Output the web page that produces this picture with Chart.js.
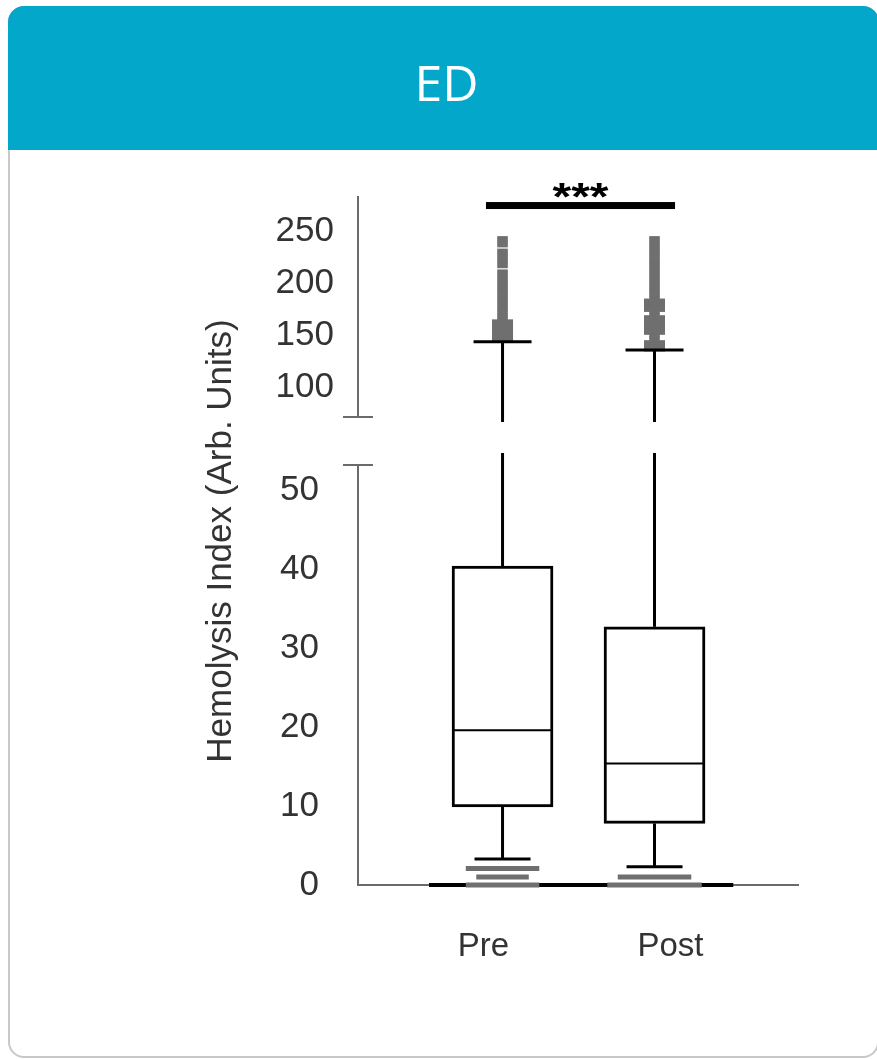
<!DOCTYPE html>
<html>
<head>
<meta charset="utf-8">
<title>ED - Hemolysis Index</title>
<script src="https://cdn.jsdelivr.net/npm/chart.js@4.4.1/dist/chart.umd.min.js"></script>
<style>
  body { margin: 0; width: 877px; height: 1059px; overflow: hidden; position: relative; background: #fff; }
  .card { position: absolute; left: 8px; top: 6px; width: 867px; height: 1048px; border: 2px solid #c8c8c8; border-radius: 16px; }
  .card-head { position: absolute; left: 8px; top: 6px; width: 871px; height: 135px; padding-top: 9px;
               background: #03a7c9; border-radius: 16px 16px 0 0; color: #fff; text-align: center;
               font: 50px "Open Sans", sans-serif; line-height: 135px; text-indent: 6px; }
  #hemolysisChart { position: absolute; left: 0; top: 150px; }
</style>
</head>
<body>
<div class="card"></div>
<div class="card-head">ED</div>
<canvas id="hemolysisChart" width="877" height="909"></canvas>

<script>
// Box plot summary per group
const categories = ["Pre", "Post"];
const q1 = [9.9, 7.8];
const median = [19.6, 15.4];
const q3 = [40.4, 32.7];
const whiskerLow = [3.3, 2.3];
const whiskerHigh = [144, 136];

// Outliers as [value, number of samples]
const highOutliers = [
    [[244,1],[242,1],[240,1],[238,1],[236,1],[232,1],[230,1],[228,1],[226,1],[224,1],[222,1],[220,1],
     [218,1],[216,1],[212,1],[210,1],[208,1],[206,1],[204,1],[202,1],[200,1],[198,1],[196,1],[194,1],
     [192,1],[190,1],[188,1],[186,1],[184,1],[182,1],[180,1],[178,1],[176,1],[174,1],[172,1],[170,1],
     [168,1],[166,1],[164,2],[162,2],[160,2],[158,2],[156,2],[154,2],[152,2],[150,2],[148,2],[146,2]],
    [[244,1],[242,1],[240,1],[238,1],[236,1],[234,1],[232,1],[230,1],[228,1],[226,1],[224,1],[222,1],
     [220,1],[218,1],[216,1],[214,1],[212,1],[210,1],[208,1],[206,1],[204,1],[202,1],[200,1],[198,1],
     [196,1],[194,1],[192,1],[190,1],[188,1],[186,1],[184,2],[182,2],[180,2],[178,2],[176,2],[174,2],
     [172,1],[170,1],[168,2],[166,2],[164,2],[162,2],[160,2],[158,2],[156,2],[154,2],[152,2],[150,1],
     [148,1],[146,1],[144,2],[142,2],[140,2],[138,2],[136,2]]
];
const lowOutliers = [
    [[2.1, 7], [1.0, 5], [0, 7]],
    [[1.0, 7], [0, 9]]
];
// readings reported as zero
const zeroReadings = [14, 15];

const topTicks = [100, 150, 200, 250];
const lowTicks = [0, 10, 20, 30, 40, 50];
const sigLabel = "***";

const FONT = '"Liberation Sans", Arial, sans-serif';
const AXIS_GREY = "#6a6a6a";
const DOT_GREY = "#6f6f6f";

function toPoints(groups) {
    return groups.flatMap((g, i) => g.map(([v, n]) => ({ x: i + 1, y: v, n: n })));
}

function dashRadius(ctx) {
    return ctx.raw ? ctx.raw.n * 5.25 : 3;
}

// whiskers, medians, axis break marks and the significance bar
const boxPlotExtras = {
    id: "boxPlotExtras",
    afterDatasetsDraw(chart) {
        const { ctx } = chart;
        const { x, yTop, yLow } = chart.scales;

        function line(x1, y1, x2, y2) {
            ctx.beginPath();
            ctx.moveTo(x1, y1);
            ctx.lineTo(x2, y2);
            ctx.stroke();
        }

        ctx.save();
        ctx.strokeStyle = "#000";
        categories.forEach((c, i) => {
            const cx = x.getPixelForValue(i + 1);
            const lowCap = yLow.getPixelForValue(whiskerLow[i]);
            const highCap = yTop.getPixelForValue(whiskerHigh[i]);

            ctx.lineWidth = 3;
            line(cx, yLow.getPixelForValue(q1[i]), cx, lowCap);
            line(cx, yLow.getPixelForValue(q3[i]), cx, yLow.top - 12);
            line(cx, yTop.bottom + 5, cx, highCap);
            line(cx - 28, lowCap, cx + 28, lowCap);
            line(cx - 29, highCap, cx + 29, highCap);

            ctx.lineWidth = 2;
            const m = yLow.getPixelForValue(median[i]);
            line(cx - 49, m, cx + 49, m);
        });

        // break marks on the y axis
        ctx.strokeStyle = AXIS_GREY;
        ctx.lineWidth = 2;
        const ax = yLow.right;
        line(ax - 15, yTop.bottom, ax + 15, yTop.bottom);
        line(ax - 15, yLow.top, ax + 15, yLow.top);

        // Pre vs Post significance
        const sx1 = x.getPixelForValue(0.891);
        const sx2 = x.getPixelForValue(2.135);
        const sy = yTop.getPixelForValue(274.8);
        ctx.fillStyle = "#000";
        ctx.fillRect(sx1, sy - 3.5, sx2 - sx1, 7);
        ctx.translate((sx1 + sx2) / 2, sy - 17.5);
        ctx.scale(1, 0.8);
        ctx.font = "bold 48px " + FONT;
        ctx.textAlign = "center";
        ctx.textBaseline = "alphabetic";
        ctx.fillText(sigLabel, 0, 0.57 * 48);
        ctx.restore();
    }
};

// fixed axis width, no extra room reserved for the end labels
function fitYAxis(s) {
    s.width = 116;
    s.paddingTop = 0;
    s.paddingBottom = 0;
}

const yBase = {
    type: "linear",
    position: "left",
    stack: "hemolysis",
    grid: { display: false, drawTicks: false },
    border: { display: true, color: AXIS_GREY, width: 2 },
    afterFit: fitYAxis
};

new Chart(document.getElementById("hemolysisChart"), {
    type: "bar",
    data: {
        datasets: [
            {
                type: "bar",
                data: categories.map((c, i) => ({ x: i + 1, y: [q1[i], q3[i]] })),
                yAxisID: "yLow",
                backgroundColor: "#fff",
                borderColor: "#000",
                borderWidth: 3,
                borderSkipped: false,
                barThickness: 101,
                order: 3
            },
            {
                type: "scatter",
                data: zeroReadings.map((n, i) => ({ x: i + 1, y: 0, n: n })),
                yAxisID: "yLow",
                pointStyle: "line",
                pointRadius: dashRadius,
                pointBorderColor: "#000",
                pointBackgroundColor: "#000",
                pointBorderWidth: 4,
                clip: false,
                order: 2
            },
            {
                type: "scatter",
                data: toPoints(lowOutliers),
                yAxisID: "yLow",
                pointStyle: "line",
                pointRadius: dashRadius,
                pointBorderColor: DOT_GREY,
                pointBackgroundColor: DOT_GREY,
                pointBorderWidth: 5,
                clip: false,
                order: 1
            },
            {
                type: "scatter",
                data: toPoints(highOutliers),
                yAxisID: "yTop",
                pointStyle: "line",
                pointRadius: dashRadius,
                pointBorderColor: DOT_GREY,
                pointBackgroundColor: DOT_GREY,
                pointBorderWidth: 3,
                clip: false,
                order: 1
            }
        ]
    },
    options: {
        responsive: false,
        animation: false,
        events: [],
        layout: { autoPadding: false, padding: { left: 200, right: 79, top: 47, bottom: 94 } },
        scales: {
            x: {
                type: "linear",
                min: 0.049,
                max: 2.944,
                offset: false,
                grid: { display: false, drawTicks: false },
                border: { display: true, color: AXIS_GREY, width: 2 },
                afterBuildTicks: s => { s.ticks = [{ value: 0.874 }, { value: 2.105 }]; },
                afterFit: s => { s.height = 80; s.paddingLeft = 0; s.paddingRight = 0; },
                ticks: {
                    autoSkip: false,
                    padding: 42,
                    color: "#333",
                    font: { family: FONT, size: 33 },
                    callback: (v, i) => categories[i]
                }
            },
            yTop: Object.assign({}, yBase, {
                min: 71.6,
                max: 283,
                weight: 3,
                stackWeight: 220,
                afterBuildTicks: s => { s.ticks = topTicks.map(v => ({ value: v })); },
                ticks: { autoSkip: false, padding: 24, color: "#333", font: { family: FONT, size: 35 } }
            }),
            yGap: Object.assign({}, yBase, {
                display: false,
                min: 0,
                max: 1,
                weight: 2,
                stackWeight: 48
            }),
            yLow: Object.assign({}, yBase, {
                min: 0,
                max: 53.2,
                weight: 1,
                stackWeight: 420,
                afterBuildTicks: s => { s.ticks = lowTicks.map(v => ({ value: v })); },
                ticks: { autoSkip: false, padding: 39, color: "#333", font: { family: FONT, size: 35 } }
            })
        },
        plugins: {
            legend: { display: false },
            tooltip: { enabled: false },
            title: {
                display: true,
                position: "left",
                fullSize: false,
                text: "Hemolysis Index (Arb. Units)",
                color: "#333",
                padding: 0,
                font: { family: FONT, size: 35, weight: "normal", lineHeight: 1.2 }
            }
        }
    },
    plugins: [boxPlotExtras]
});
</script>
</body>
</html>
